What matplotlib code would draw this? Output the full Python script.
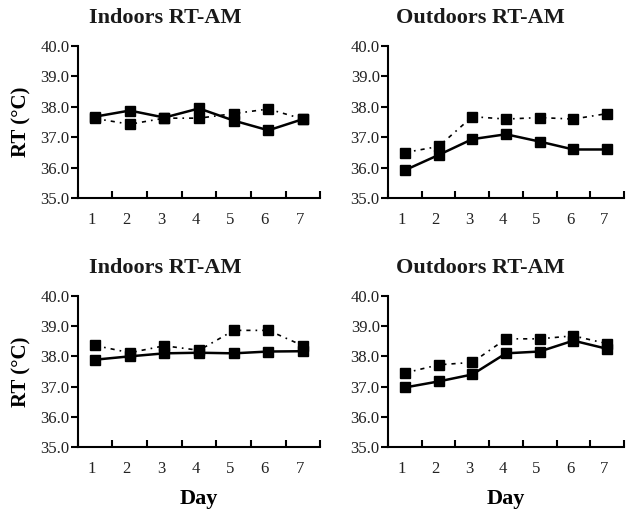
import matplotlib
matplotlib.use("Agg")
import matplotlib.pyplot as plt

# jours
days = [1, 2, 3, 4, 5, 6, 7]
day_labels = ["1", "2", "3", "4", "5", "6", "7"]
y_ticks = [35.0, 36.0, 37.0, 38.0, 39.0, 40.0]

titles = ["Indoors RT-AM", "Outdoors RT-AM", "Indoors RT-AM", "Outdoors RT-AM"]

# valeurs (trait plein / pointille)
top_left_solid = [37.68, 37.88, 37.65, 37.95, 37.55, 37.23, 37.6]
top_left_dash = [37.62, 37.43, 37.63, 37.63, 37.78, 37.93, 37.6]

top_right_solid = [35.92, 36.42, 36.94, 37.1, 36.86, 36.6, 36.6]
top_right_dash = [36.5, 36.7, 37.68, 37.6, 37.65, 37.6, 37.78]

bot_left_solid = [37.89, 38.0, 38.1, 38.12, 38.1, 38.16, 38.17]
bot_left_dash = [38.36, 38.12, 38.35, 38.2, 38.86, 38.86, 38.35]

bot_right_solid = [36.97, 37.17, 37.4, 38.1, 38.16, 38.52, 38.25]
bot_right_dash = [37.45, 37.72, 37.8, 38.58, 38.58, 38.68, 38.42]

series = [
    (top_left_solid, top_left_dash),
    (top_right_solid, top_right_dash),
    (bot_left_solid, bot_left_dash),
    (bot_right_solid, bot_right_dash),
]

plt.rcParams['font.family'] = ['Liberation Serif', 'DejaVu Serif']

fig = plt.figure(figsize=(6.27, 5.12), dpi=100)

positions = [
    [0.124, 0.613, 0.387, 0.297],
    [0.619, 0.613, 0.376, 0.297],
    [0.124, 0.127, 0.387, 0.295],
    [0.619, 0.127, 0.376, 0.295],
]
title_x = [0.36, 0.39, 0.36, 0.39]

for i in range(4):
    ax = fig.add_axes(positions[i])
    solid, dash = series[i]

    ax.plot(days, dash, color='black', lw=1.2, linestyle=(0, (2.5, 3, 1, 3)),
            marker='s', markersize=7, zorder=3)
    ax.plot(days, solid, color='black', lw=1.8, linestyle='-',
            marker='s', markersize=7, zorder=4)

    ax.set_xlim(0.5, 7.5)
    ax.set_ylim(35.0, 40.0)

    # petits traits entre les jours, vers le haut
    ax.set_xticks([d - 0.5 for d in days] + [7.5])
    ax.set_xticklabels([])
    ax.tick_params(axis='x', direction='in', length=5, width=1.5)
    ax.set_xticks([d - 0.1 for d in days], minor=True)
    ax.set_xticklabels(day_labels, minor=True, fontsize=12, color='#222222')
    ax.tick_params(axis='x', which='minor', length=0, pad=10)

    ax.set_yticks(y_ticks)
    ax.set_yticklabels(["%.1f" % v for v in y_ticks], fontsize=12, color='#222222')
    ax.tick_params(axis='y', direction='out', length=5, width=1.5, pad=1)

    ax.spines['top'].set_visible(False)
    ax.spines['right'].set_visible(False)
    ax.spines['left'].set_linewidth(1.5)
    ax.spines['bottom'].set_linewidth(1.5)

    ax.text(title_x[i], 1.12, titles[i], transform=ax.transAxes, ha='center',
            va='bottom', fontsize=16, fontweight='bold', color='#1a1a1a')

    if i % 2 == 0:
        ax.set_ylabel("RT (°C)", fontsize=15, fontweight='bold', labelpad=6)
    if i >= 2:
        ax.set_xlabel("Day", fontsize=16, fontweight='bold', labelpad=9)

fig.savefig("out.png", dpi=100)
